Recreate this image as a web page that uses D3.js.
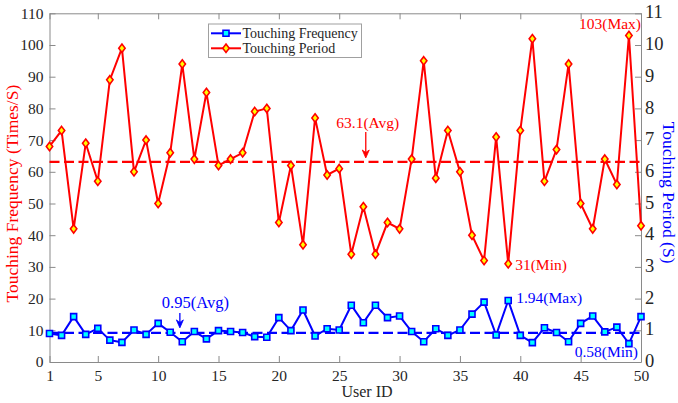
<!DOCTYPE html>
<html><head><meta charset="utf-8">
<script src="https://cdn.jsdelivr.net/npm/d3@7"></script>
<style>body{margin:0;background:#fff} text{font-family:"Liberation Serif","Times New Roman",serif}</style>
</head><body><svg id="c" width="678" height="403"></svg>
<script>
const userIds = [1,2,3,4,5,6,7,8,9,10,11,12,13,14,15,16,17,18,19,20,21,22,23,24,25,26,27,28,29,30,31,32,33,34,35,36,37,38,39,40,41,42,43,44,45,46,47,48,49,50];
const touchingPeriod = [68,73,42,69,57,89,99,60,70,50,66,94,64,85,62,64,66,79,80,44,62,37,77,59,61,34,49,34,44,42,64,95,58,73,60,40,32,71,31,73,102,57,67,94,50,42,64,56,103,43];
const touchingFrequency = [0.90,0.84,1.43,0.87,1.06,0.69,0.62,1.01,0.87,1.22,0.94,0.64,0.96,0.73,0.99,0.96,0.93,0.80,0.78,1.40,0.99,1.64,0.82,1.05,1.01,1.79,1.24,1.79,1.40,1.45,0.96,0.64,1.05,0.84,1.01,1.51,1.89,0.85,1.94,0.84,0.61,1.08,0.93,0.64,1.22,1.45,0.95,1.10,0.58,1.43];
const xTicks = [1,5,10,15,20,25,30,35,40,45,50];
const leftTicks = [0,10,20,30,40,50,60,70,80,90,100,110];
const rightTicks = [0,1,2,3,4,5,6,7,8,9,10,11];
const periodAvg = 63.1, freqAvg = 0.95;
const seriesNames = ["Touching Frequency","Touching Period"];

const RED = "#ff0000", BLUE = "#0000ff";
const FONT = '"Liberation Serif","Times New Roman",serif';
const L = 49.5, R = 641, T = 13.3, B = 362;
const svg = d3.select("#c");
const x = d3.scaleLinear().domain([1,50]).range([L,R]);
const yL = d3.scaleLinear().domain([0,110]).range([B,T]);
const yR = d3.scaleLinear().domain([0,11]).range([B,T]);

function styleAxis(g, fs){
  g.attr("font-family", FONT);
  g.select(".domain").attr("stroke","#8a8a8a");
  g.selectAll(".tick line").attr("stroke","#8a8a8a");
  g.selectAll(".tick text").attr("fill","#262626").style("font-size",fs+"px").style("font-family",FONT);
}
svg.append("g").attr("transform",`translate(0,${B})`)
  .call(d3.axisBottom(x).tickValues(xTicks).tickSizeInner(-6).tickSizeOuter(0).tickPadding(8))
  .call(g=>styleAxis(g,15.5));
svg.append("g").attr("transform",`translate(0,${T})`)
  .call(d3.axisTop(x).tickValues(xTicks).tickSizeInner(-6).tickSizeOuter(0).tickFormat(""))
  .call(g=>styleAxis(g,15));
svg.append("g").attr("transform",`translate(${L},0)`)
  .call(d3.axisLeft(yL).tickValues(leftTicks).tickSizeInner(-6).tickSizeOuter(0).tickPadding(6))
  .call(g=>styleAxis(g,15.5));
svg.append("g").attr("transform",`translate(${R},0)`)
  .call(d3.axisRight(yR).tickValues(rightTicks).tickSizeInner(-6).tickSizeOuter(0).tickPadding(4))
  .call(g=>{ styleAxis(g,18.5); g.selectAll(".tick text").attr("dy","0.25em"); });

// axis titles
svg.append("text").attr("transform",`translate(18,${(T+B)/2+6}) rotate(-90)`)
  .attr("text-anchor","middle").attr("fill",RED).style("font-size","17.5px").style("font-family",FONT)
  .text("Touching Frequency (Times/S)");
svg.append("text").attr("transform",`translate(663,${(T+B)/2+5}) rotate(90)`)
  .attr("text-anchor","middle").attr("fill",BLUE).style("font-size","17.5px").style("font-family",FONT)
  .text("Touching Period (S)");
svg.append("text").attr("x",367).attr("y",396.5).attr("text-anchor","middle").style("font-family",FONT)
  .attr("fill","#262626").style("font-size","16px").text("User ID");

// average lines
svg.append("line").attr("x1",x(1)).attr("x2",x(50)).attr("y1",yL(periodAvg)).attr("y2",yL(periodAvg))
  .attr("stroke",RED).attr("stroke-width",2.2).attr("stroke-dasharray","10,4.5");
svg.append("line").attr("x1",x(1)).attr("x2",x(50)).attr("y1",yR(freqAvg)+1).attr("y2",yR(freqAvg)+1)
  .attr("stroke",BLUE).attr("stroke-width",2.2).attr("stroke-dasharray","10,4.5");

const redData = userIds.map((u,i)=>({u, v:touchingPeriod[i]}));
const blueData = userIds.map((u,i)=>({u, v:touchingFrequency[i]}));

svg.append("path").datum(redData)
  .attr("d", d3.line().x(d=>x(d.u)).y(d=>yL(d.v)))
  .attr("fill","none").attr("stroke",RED).attr("stroke-width",2);
svg.append("path").datum(blueData)
  .attr("d", d3.line().x(d=>x(d.u)).y(d=>yR(d.v)))
  .attr("fill","none").attr("stroke",BLUE).attr("stroke-width",2);

const diamond = "M0,-4.2L3.2,0L0,4.2L-3.2,0Z";
const square = "M-3,-3H3V3H-3Z";
svg.append("g").selectAll("path").data(redData).join("path")
  .attr("transform",d=>`translate(${x(d.u)},${yL(d.v)})`).attr("d",diamond)
  .attr("fill","#ffff00").attr("stroke",RED).attr("stroke-width",1.6);
svg.append("g").selectAll("path").data(blueData).join("path")
  .attr("transform",d=>`translate(${x(d.u)},${yR(d.v)})`).attr("d",square)
  .attr("fill","#00ffff").attr("stroke",BLUE).attr("stroke-width",1.6);

// annotations
const fsA = "15.5px";
function arrow(xp, y1, y2, col){
  svg.append("line").attr("x1",xp).attr("x2",xp).attr("y1",y1).attr("y2",y2-3)
    .attr("stroke",col).attr("stroke-width",1.3);
  svg.append("path").attr("d",`M${xp-3.5},${y2-8}L${xp},${y2}L${xp+3.5},${y2-8}L${xp},${y2-5.5}Z`)
    .attr("fill",col).attr("stroke",col).attr("stroke-width",0.8);
}
function note(xp, yp, anchor, col, txt, fs){
  svg.append("text").attr("x",xp).attr("y",yp).attr("text-anchor",anchor)
    .attr("fill",col).style("font-size",fs||fsA).style("font-family",FONT).text(txt);
}
const redArrowU = 27.2, blueArrowU = 11.8;
note(x(redArrowU)+2, yL(periodAvg)-34, "middle", RED, periodAvg+"(Avg)");
arrow(x(redArrowU), yL(periodAvg)-30, yL(periodAvg)-4, RED);
note(x(blueArrowU)-18, yR(freqAvg)-24, "start", BLUE, freqAvg+"(Avg)", "16.5px");
arrow(x(blueArrowU), yR(freqAvg)-19, yR(freqAvg)-4, BLUE);

const pMaxI = touchingPeriod.indexOf(d3.max(touchingPeriod));
const pMinI = touchingPeriod.indexOf(d3.min(touchingPeriod));
const fMaxI = touchingFrequency.indexOf(d3.max(touchingFrequency));
const fMinI = touchingFrequency.indexOf(d3.min(touchingFrequency));
note(x(50), yL(touchingPeriod[pMaxI])-6.5, "end", RED, touchingPeriod[pMaxI]+"(Max)");
note(x(userIds[pMinI])+7, yL(touchingPeriod[pMinI])+6.5, "start", RED, touchingPeriod[pMinI]+"(Min)");
note(x(userIds[fMaxI])+8, yR(touchingFrequency[fMaxI])+2.5, "start", BLUE, touchingFrequency[fMaxI]+"(Max)");
note(x(50)-3, yR(touchingFrequency[fMinI])+13.5, "end", BLUE, touchingFrequency[fMinI]+"(Min)");

// legend
const lg = svg.append("g");
lg.append("rect").attr("x",208.5).attr("y",24).attr("width",153).attr("height",33.5)
  .attr("fill","#fff").attr("stroke","#a0a0a0").attr("stroke-width",1);
const cols = [BLUE, RED], marks = [square, diamond], fills = ["#00ffff","#ffff00"];
seriesNames.forEach((n,i)=>{
  const yy = 33.3 + i*15;
  lg.append("line").attr("x1",211).attr("x2",241).attr("y1",yy).attr("y2",yy)
    .attr("stroke",cols[i]).attr("stroke-width",2);
  lg.append("path").attr("transform",`translate(226,${yy})`).attr("d",marks[i])
    .attr("fill",fills[i]).attr("stroke",cols[i]).attr("stroke-width",1.6);
  lg.append("text").attr("x",242.5).attr("y",yy+4.8).attr("fill","#262626").style("font-family",FONT)
    .style("font-size","14px").text(n);
});
</script></body></html>
